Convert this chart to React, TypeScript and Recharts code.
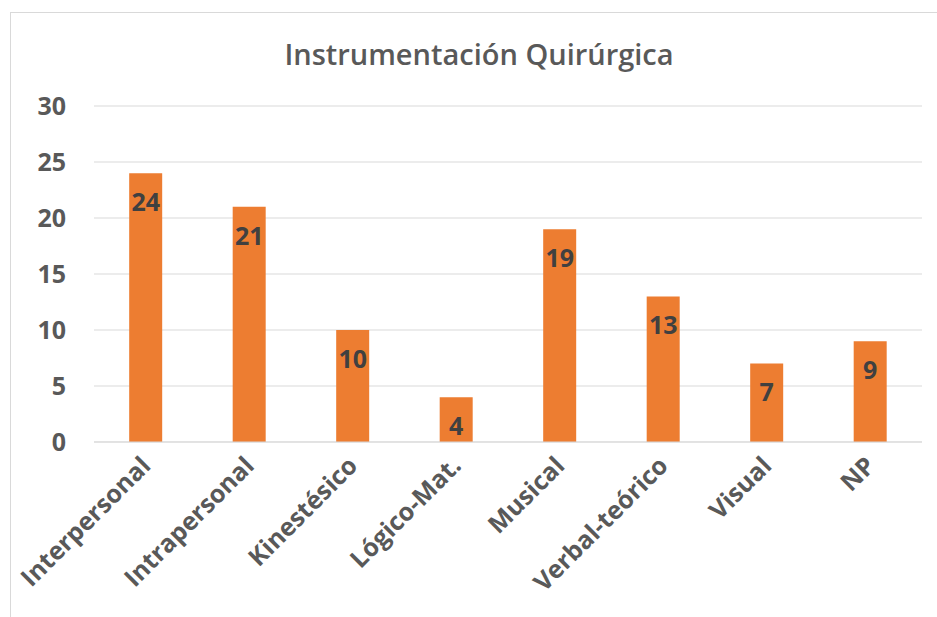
import React from "react"
import { Bar, BarChart, CartesianGrid, LabelList, XAxis, YAxis } from "recharts"

const categories = [
  "Interpersonal",
  "Intrapersonal",
  "Kinestésico",
  "Lógico-Mat.",
  "Musical",
  "Verbal-teórico",
  "Visual",
  "NP",
]
const values = [24, 21, 10, 4, 19, 13, 7, 9]
const yTicks = [0, 5, 10, 15, 20, 25, 30]

const title = "Instrumentación Quirúrgica"

const data = categories.map((name, i) => ({ name, value: values[i] }))

const FONT = "'Open Sans', 'Noto Sans', sans-serif"
const TEXT_GRAY = "#595959"

function RotatedTick(props: any) {
  const { x, y, payload } = props
  return (
    <g transform={`translate(${x - 5},${y + 6})`}>
      <text
        transform="rotate(-45)"
        textAnchor="end"
        dy={16}
        fill={TEXT_GRAY}
        fontFamily={FONT}
        fontWeight={700}
        fontSize={25}
      >
        {payload.value}
      </text>
    </g>
  )
}

export default function App() {
  return (
    <div style={{ position: "absolute", left: 0, top: 0, width: 937, height: 617, background: "#fff", overflow: "hidden" }}>
      <div
        style={{
          position: "absolute",
          left: 10,
          top: 12,
          width: 940,
          height: 620,
          borderTop: "1px solid #d9d9d9",
          borderLeft: "1px solid #d9d9d9",
        }}
      />
      <div
        style={{
          position: "absolute",
          left: 0,
          width: 958,
          top: 34,
          textAlign: "center",
          fontFamily: FONT,
          fontSize: 29,
          fontWeight: 600,
          color: TEXT_GRAY,
        }}
      >
        {title}
      </div>
      <div style={{ position: "absolute", left: 0, top: 0 }}>
        <BarChart
          width={937}
          height={617}
          data={data}
          margin={{ top: 106, right: 15, left: 34, bottom: 15 }}
          barCategoryGap="34%"
        >
          <CartesianGrid vertical={false} stroke="#d9d9d9" />
          <XAxis
            dataKey="name"
            interval={0}
            height={160}
            axisLine={{ stroke: "#d9d9d9" }}
            tickLine={false}
            tick={<RotatedTick />}
          />
          <YAxis
            width={60}
            domain={[0, 30]}
            ticks={yTicks}
            axisLine={false}
            tickLine={false}
            tick={{ fill: TEXT_GRAY, fontFamily: FONT, fontWeight: 700, fontSize: 25 }}
            tickMargin={22}
          />
          <Bar dataKey="value" fill="#ED7D31" isAnimationActive={false}>
            <LabelList
              dataKey="value"
              position="insideTop"
              offset={20}
              fill="#404040"
              fontFamily={FONT}
              fontWeight={700}
              fontSize={25}
            />
          </Bar>
        </BarChart>
      </div>
    </div>
  )
}
